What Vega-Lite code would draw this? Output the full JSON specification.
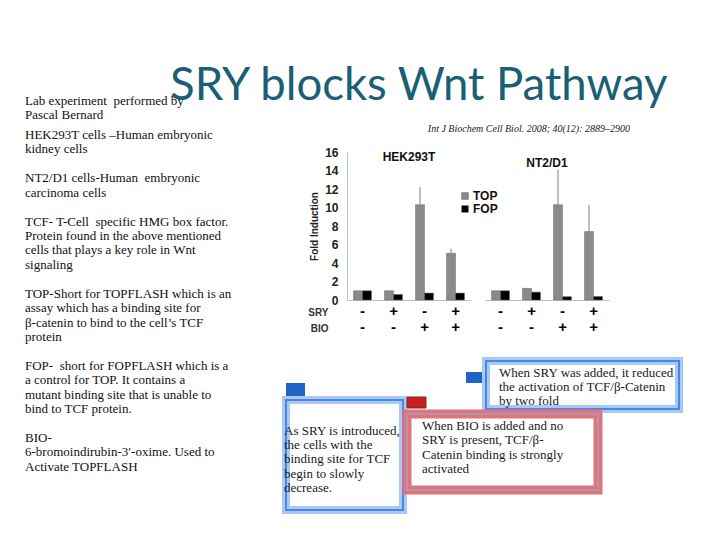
{
  "$schema": "https://vega.github.io/schema/vega-lite/v6.json",
  "background": "white",
  "padding": {"left": 25, "top": 63, "right": 0, "bottom": 0},
  "title": {"text": "SRY blocks Wnt Pathway", "font": "Lato", "fontSize": 45.5, "fontWeight": "normal", "color": "#1a5f76", "anchor": "start", "dx": 145, "offset": -14},
  "spacing": 17,
  "config": {"view": {"stroke": null}, "font": "Liberation Sans"},
  "datasets": {
    "bars": [
      {"cell": "HEK293T", "cond": "-|-", "assay": "TOP", "value": 1.0},
      {"cell": "HEK293T", "cond": "-|-", "assay": "FOP", "value": 1.0},
      {"cell": "HEK293T", "cond": "+|-", "assay": "TOP", "value": 1.0},
      {"cell": "HEK293T", "cond": "+|-", "assay": "FOP", "value": 0.6},
      {"cell": "HEK293T", "cond": "-|+", "assay": "TOP", "value": 10.3, "upper": 12.2},
      {"cell": "HEK293T", "cond": "-|+", "assay": "FOP", "value": 0.75},
      {"cell": "HEK293T", "cond": "+|+", "assay": "TOP", "value": 5.05, "upper": 5.55},
      {"cell": "HEK293T", "cond": "+|+", "assay": "FOP", "value": 0.75},
      {"cell": "NT2/D1", "cond": "-|-", "assay": "TOP", "value": 1.0},
      {"cell": "NT2/D1", "cond": "-|-", "assay": "FOP", "value": 1.0},
      {"cell": "NT2/D1", "cond": "+|-", "assay": "TOP", "value": 1.26},
      {"cell": "NT2/D1", "cond": "+|-", "assay": "FOP", "value": 0.85},
      {"cell": "NT2/D1", "cond": "-|+", "assay": "TOP", "value": 10.3, "upper": 14.1},
      {"cell": "NT2/D1", "cond": "-|+", "assay": "FOP", "value": 0.36},
      {"cell": "NT2/D1", "cond": "+|+", "assay": "TOP", "value": 7.4, "upper": 10.3},
      {"cell": "NT2/D1", "cond": "+|+", "assay": "FOP", "value": 0.38}
    ],
    "left1": [
      {"line": 0, "text": "Lab experiment\u00a0 performed by"},
      {"line": 1, "text": "Pascal Bernard"}
    ],
    "left2": [
      {"line": 0, "text": "HEK293T cells –Human embryonic"},
      {"line": 1, "text": "kidney cells"},
      {"line": 3, "text": "\u00a0NT2/D1 cells-Human\u00a0 embryonic"},
      {"line": 4, "text": "carcinoma cells"},
      {"line": 6, "text": "TCF- T-Cell\u00a0 specific HMG box factor."},
      {"line": 7, "text": "Protein found in the above mentioned"},
      {"line": 8, "text": "cells that plays a key role in Wnt"},
      {"line": 9, "text": "signaling"},
      {"line": 11, "text": "TOP-Short for TOPFLASH which is an"},
      {"line": 12, "text": "assay which has a binding site for"},
      {"line": 13, "text": "β-catenin to bind to the cell’s TCF"},
      {"line": 14, "text": "protein"},
      {"line": 16, "text": "FOP-\u00a0 short for FOPFLASH which is a"},
      {"line": 17, "text": "a control for TOP. It contains a"},
      {"line": 18, "text": "mutant binding site that is unable to"},
      {"line": 19, "text": "bind to TCF protein."},
      {"line": 21, "text": "BIO-"},
      {"line": 22, "text": "\u00a06-bromoindirubin-3′-oxime. Used to"},
      {"line": 23, "text": "Activate TOPFLASH"}
    ],
    "cite": [{"line": 0, "text": "Int J Biochem Cell Biol. 2008; 40(12): 2889–2900"}],
    "boxA": [
      {"line": 0, "text": "As SRY is introduced,"},
      {"line": 1, "text": "\u00a0the cells with the"},
      {"line": 2, "text": "\u00a0binding site for TCF"},
      {"line": 3, "text": "\u00a0begin to slowly"},
      {"line": 4, "text": "\u00a0decrease."}
    ],
    "boxB": [
      {"line": 0, "text": "When BIO is added and no"},
      {"line": 1, "text": "SRY is present, TCF/β-"},
      {"line": 2, "text": "Catenin binding is strongly"},
      {"line": 3, "text": "activated"}
    ],
    "boxC": [
      {"line": 0, "text": "When SRY was added, it reduced"},
      {"line": 1, "text": "the activation of TCF/β-Catenin"},
      {"line": 2, "text": "by two fold"}
    ],
    "frame": [{"box": 1}],
    "none": []
  },
  "hconcat": [
    {
      "vconcat": [
        {
          "width": 240, "height": 26,
          "data": {"name": "left1"},
          "mark": {"type": "text", "align": "left", "baseline": "middle", "font": "Liberation Serif", "fontSize": 13, "color": "#111"},
          "encoding": {
            "x": {"value": 0},
            "y": {"field": "line", "type": "quantitative", "axis": null, "scale": {"domain": [-0.43, 1.43], "reverse": true, "nice": false, "zero": false}},
            "text": {"field": "text"}
          }
        },
        {
          "width": 240, "height": 355,
          "data": {"name": "left2"},
          "mark": {"type": "text", "align": "left", "baseline": "middle", "font": "Liberation Serif", "fontSize": 13, "color": "#111"},
          "encoding": {
            "x": {"value": 0},
            "y": {"field": "line", "type": "quantitative", "axis": null, "scale": {"domain": [-0.97, 23.63], "reverse": true, "nice": false, "zero": false}},
            "text": {"field": "text"}
          }
        }
      ],
      "spacing": 0,
      "bounds": "flush"
    },
    {
      "vconcat": [
        {
          "width": 344, "height": 51,
          "data": {"name": "cite"},
          "mark": {"type": "text", "align": "right", "baseline": "middle", "font": "Liberation Serif", "fontStyle": "italic", "fontSize": 10, "color": "#222"},
          "encoding": {
            "x": {"value": 344},
            "y": {"field": "line", "type": "quantitative", "axis": null, "scale": {"domain": [-0.67, 0.33], "reverse": true, "nice": false, "zero": false}},
            "text": {"field": "text"}
          }
        },
        {
          "hconcat": [
            {"width": 47, "height": 10, "data": {"name": "none"}, "mark": "text"},
            {
              "width": 124, "height": 148,
              "data": {"name": "bars"},
              "transform": [{"filter": "datum.cell === 'HEK293T'"}],
              "title": {"text": "HEK293T", "font": "Liberation Sans", "fontSize": 12, "fontWeight": "bold", "color": "#111", "offset": -18},
              "encoding": {
                "x": {"field": "cond", "type": "nominal", "sort": ["-|-", "+|-", "-|+", "+|+"], "scale": {"paddingInner": 0.42, "paddingOuter": 0.21},
                  "axis": {"domainColor": "#bfbfbf", "ticks": false, "labelAngle": 0, "labelExpr": "split(datum.value, '|')", "labelFont": "Liberation Sans", "labelFontSize": 15, "labelFontWeight": "bold", "labelColor": "#000", "labelLineHeight": 16, "labelPadding": 3, "labelBaseline": "top",
                    "title": ["SRY", "BIO"], "titleFont": "Liberation Sans", "titleFontSize": 10, "titleFontWeight": "bold", "titleColor": "#333", "titleLineHeight": 16, "titleAlign": "right", "titleAnchor": "start", "titleBaseline": "top", "titleX": -19, "titleY": 7}},
                "y": {"field": "value", "type": "quantitative", "scale": {"domain": [0, 16], "nice": false},
                  "axis": {"values": [0, 2, 4, 6, 8, 10, 12, 14, 16], "labelOverlap": false, "labelFlush": false, "ticks": false, "grid": false, "domainColor": "#bfbfbf", "labelFont": "Liberation Sans", "labelFontSize": 12, "labelFontWeight": "bold", "labelColor": "#222", "labelPadding": 9,
                    "title": "Fold Induction", "titleFont": "Liberation Sans", "titleFontSize": 10, "titleFontWeight": "bold", "titleColor": "#222", "titlePadding": 5}},
                "xOffset": {"field": "assay", "sort": ["TOP", "FOP"]}
              },
              "layer": [
                {
                  "mark": {"type": "bar", "stroke": "#6a6a6a", "strokeWidth": 0.5},
                  "encoding": {
                    "color": {"field": "assay", "type": "nominal", "scale": {"domain": ["TOP", "FOP"], "range": ["#8a8a8a", "#000000"]},
                      "legend": {"orient": "none", "legendX": 112, "legendY": 38, "title": null, "padding": 0, "symbolType": "square", "symbolSize": 45, "symbolStrokeColor": "#555", "symbolStrokeWidth": 0.5, "labelFont": "Liberation Sans", "labelFontSize": 12, "labelFontWeight": "bold", "labelColor": "#111", "labelOffset": 2, "rowPadding": 1}}
                  }
                },
                {
                  "transform": [{"filter": "isValid(datum.upper)"}],
                  "mark": {"type": "rule", "color": "#808080", "strokeWidth": 1},
                  "encoding": {
                    "y2": {"field": "upper"}
                  }
                }
              ]
            },
            {
              "width": 124, "height": 148,
              "data": {"name": "bars"},
              "transform": [{"filter": "datum.cell === 'NT2/D1'"}],
              "title": {"text": "NT2/D1", "font": "Liberation Sans", "fontSize": 12, "fontWeight": "bold", "color": "#111", "offset": -18},
              "encoding": {
                "x": {"field": "cond", "type": "nominal", "sort": ["-|-", "+|-", "-|+", "+|+"], "scale": {"paddingInner": 0.42, "paddingOuter": 0.21},
                  "axis": {"domainColor": "#bfbfbf", "ticks": false, "labelAngle": 0, "labelExpr": "split(datum.value, '|')", "labelFont": "Liberation Sans", "labelFontSize": 15, "labelFontWeight": "bold", "labelColor": "#000", "labelLineHeight": 16, "labelPadding": 3, "labelBaseline": "top", "title": null}},
                "y": {"field": "value", "type": "quantitative", "scale": {"domain": [0, 16], "nice": false}, "axis": null},
                "xOffset": {"field": "assay", "sort": ["TOP", "FOP"]}
              },
              "layer": [
                {
                  "mark": {"type": "bar", "stroke": "#6a6a6a", "strokeWidth": 0.5},
                  "encoding": {
                    "color": {"field": "assay", "type": "nominal", "scale": {"domain": ["TOP", "FOP"], "range": ["#8a8a8a", "#000000"]}, "legend": null}
                  }
                },
                {
                  "transform": [{"filter": "isValid(datum.upper)"}],
                  "mark": {"type": "rule", "color": "#808080", "strokeWidth": 1},
                  "encoding": {
                    "y2": {"field": "upper"}
                  }
                }
              ]
            }
          ],
          "spacing": 14,
          "bounds": "flush",
          "resolve": {"legend": {"color": "independent"}, "scale": {"y": "independent"}}
        },
        {"width": 10, "height": 23, "data": {"name": "none"}, "mark": "text"},
        {
          "hconcat": [
            {
              "vconcat": [
                {"width": 10, "height": 22, "data": {"name": "none"}, "mark": "text"},
                {"width": 19, "height": 13, "data": {"name": "frame"}, "mark": {"type": "rect", "fill": "#1f63c6"}},
                {
                  "width": 117, "height": 110,
                  "layer": [
                    {"data": {"name": "frame"}, "mark": {"type": "rect", "fill": "white", "stroke": "#a9c9f5", "strokeWidth": 8}},
                    {"data": {"name": "frame"}, "mark": {"type": "rect", "fill": "white", "fillOpacity": 0, "stroke": "#4a86e8", "strokeWidth": 2}},
                    {
                      "data": {"name": "boxA"},
                      "mark": {"type": "text", "align": "left", "baseline": "middle", "font": "Liberation Serif", "fontSize": 13, "color": "#1a1a1a"},
                      "encoding": {
                        "x": {"value": -2},
                        "y": {"field": "line", "type": "quantitative", "axis": null, "scale": {"domain": [-2.175, 5.545], "reverse": true, "nice": false, "zero": false}},
                        "text": {"field": "text"}
                      }
                    }
                  ]
                }
              ],
              "spacing": 0
            },
            {
              "vconcat": [
                {
                  "hconcat": [
                    {
                      "vconcat": [
                        {"width": 59, "height": 35, "data": {"name": "none"}, "mark": "text"},
                        {"width": 19, "height": 11, "data": {"name": "frame"}, "mark": {"type": "rect", "fill": "#cc1f1f", "stroke": "#7a2a2a", "strokeWidth": 1}}
                      ],
                      "spacing": 0
                    },
                    {
                      "vconcat": [
                        {"width": 20, "height": 11, "data": {"name": "none"}, "mark": "text"},
                        {"width": 20, "height": 11, "data": {"name": "frame"}, "mark": {"type": "rect", "fill": "#1f63c6"}}
                      ],
                      "spacing": 0
                    },
                    {
                      "width": 193, "height": 48,
                      "layer": [
                        {"data": {"name": "frame"}, "mark": {"type": "rect", "fill": "white", "stroke": "#a9c9f5", "strokeWidth": 8}},
                        {"data": {"name": "frame"}, "mark": {"type": "rect", "fill": "white", "fillOpacity": 0, "stroke": "#4a86e8", "strokeWidth": 2}},
                        {
                          "data": {"name": "boxC"},
                          "mark": {"type": "text", "align": "left", "baseline": "middle", "font": "Liberation Serif", "fontSize": 13, "color": "#1a1a1a"},
                          "encoding": {
                            "x": {"value": 13},
                            "y": {"field": "line", "type": "quantitative", "axis": null, "scale": {"domain": [-0.857, 2.571], "reverse": true, "nice": false, "zero": false}},
                            "text": {"field": "text"}
                          }
                        }
                      ]
                    }
                  ],
                  "spacing": -6
                },
                {
                  "width": 191, "height": 76,
                  "layer": [
                    {"data": {"name": "frame"}, "mark": {"type": "rect", "fill": "white", "stroke": "#e57373", "strokeWidth": 9}},
                    {"data": {"name": "frame"}, "mark": {"type": "rect", "fill": "white", "fillOpacity": 0, "stroke": "#8fa8d8", "strokeWidth": 1.5}},
                    {
                      "data": {"name": "boxB"},
                      "mark": {"type": "text", "align": "left", "baseline": "middle", "font": "Liberation Serif", "fontSize": 13, "color": "#1a1a1a"},
                      "encoding": {
                        "x": {"value": 15},
                        "y": {"field": "line", "type": "quantitative", "axis": null, "scale": {"domain": [-0.837, 4.466], "reverse": true, "nice": false, "zero": false}},
                        "text": {"field": "text"}
                      }
                    }
                  ]
                }
              ],
              "spacing": -4
            }
          ],
          "spacing": -12
        }
      ],
      "spacing": 0
    }
  ]
}
